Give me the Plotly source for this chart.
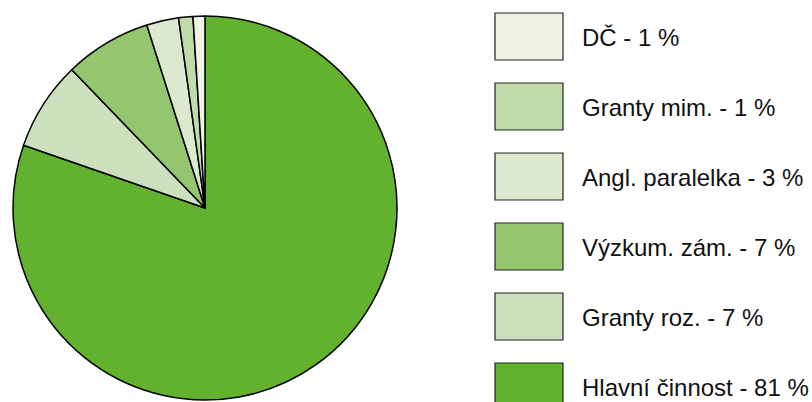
import plotly.graph_objects as go

labels = ["Hlavní činnost", "Granty roz.", "Výzkum. zám.", "Angl. paralelka", "Granty mim.", "DČ"]
values = [80.3, 7.5, 7.3, 2.7, 1.2, 1.0]
pct_labels = ["81 %", "7 %", "7 %", "3 %", "1 %", "1 %"]
colors = ["#62b22f", "#cce0bd", "#94c56f", "#dde9cf", "#c1dbab", "#eef3e4"]

W, H = 812, 402

fig = go.Figure(go.Pie(
    labels=labels,
    values=values,
    sort=False,
    direction="clockwise",
    rotation=0,
    textinfo="none",
    hoverinfo="label+percent",
    marker=dict(colors=colors, line=dict(color="#000000", width=1.5)),
    domain=dict(x=[13 / W, 397 / W], y=[2 / H, 386 / H]),
    showlegend=False,
))

# custom legend (reversed order, top = last slice)
shapes = []
annotations = []
box_x0, box_x1 = 495, 563
box_h = 47
top0 = 13
step = 70
for i, idx in enumerate(reversed(range(len(labels)))):
    y0 = top0 + i * step
    y1 = y0 + box_h
    shapes.append(dict(
        type="rect", xref="paper", yref="paper",
        x0=box_x0 / W, x1=box_x1 / W,
        y0=1 - y1 / H, y1=1 - y0 / H,
        fillcolor=colors[idx],
        line=dict(color="#222222", width=1.2),
    ))
    annotations.append(dict(
        xref="paper", yref="paper",
        x=580 / W, y=1 - (y0 + box_h / 2 + 1) / H,
        xanchor="left", yanchor="middle",
        text=f"{labels[idx]} - {pct_labels[idx]}",
        showarrow=False,
        font=dict(family="Liberation Sans, Arial, sans-serif", size=24, color="#111111"),
    ))

fig.update_layout(
    width=W, height=H,
    margin=dict(l=0, r=0, t=0, b=0),
    paper_bgcolor="white",
    plot_bgcolor="white",
    shapes=shapes,
    annotations=annotations,
)

fig.write_html(
    "out.html",
    config={"displayModeBar": False},
    post_script="document.body.style.margin='0';document.body.style.overflow='hidden';",
)
